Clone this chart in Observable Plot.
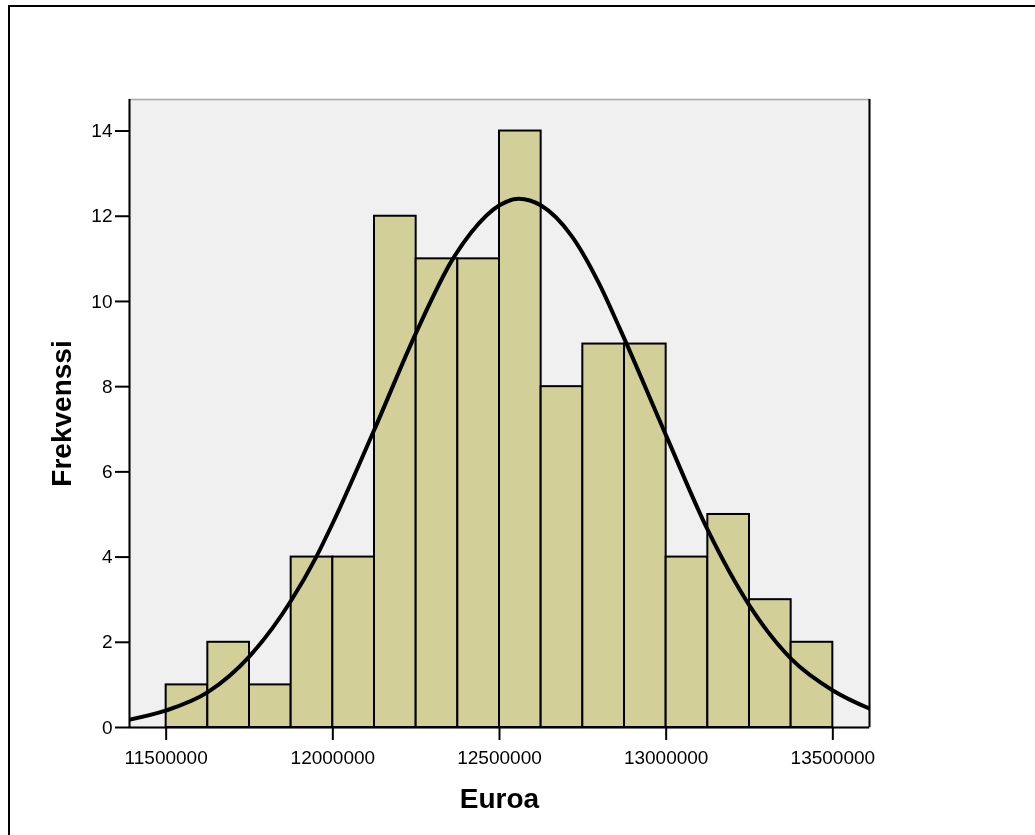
<!DOCTYPE html>
<html>
<head>
<meta charset="utf-8">
<script src="https://cdn.jsdelivr.net/npm/d3@7"></script>
<script src="https://cdn.jsdelivr.net/npm/@observablehq/plot@0.6"></script>
<style>
  html, body { margin: 0; padding: 0; background: #fff; overflow: hidden; }
  #hline { position: fixed; left: 8px; top: 5px; width: 1027px; height: 2px; background: #000; }
  #vline { position: fixed; left: 8px; top: 5px; width: 2px; height: 830px; background: #000; }
  #chart { position: fixed; left: 0; top: 0; }
</style>
</head>
<body>
<div id="hline"></div>
<div id="vline"></div>
<div id="chart"></div>
<script>
// Histogram bins (Euroa) and frequencies
const binEdges = [11500000, 11625000, 11750000, 11875000, 12000000, 12125000, 12250000, 12375000, 12500000,
                  12625000, 12750000, 12875000, 13000000, 13125000, 13250000, 13375000, 13500000];
const counts = [1, 2, 1, 4, 4, 12, 11, 11, 14, 8, 9, 9, 4, 5, 3, 2];

// Normal curve
const curveX = [11388000, 11500000, 11625000, 11750000, 11875000, 11950000, 12000000, 12125000, 12250000,
                12360000, 12415000, 12500000, 12558000, 12625000, 12715000, 12800000, 12860000, 13000000,
                13125000, 13250000, 13375000, 13500000, 13611000];
const curveY = [0.18, 0.40, 0.83, 1.67, 2.98, 4.0, 4.8, 7.0, 9.27,
                11.0, 11.62, 12.26, 12.41, 12.25, 11.55, 10.4, 9.38, 6.85,
                4.63, 2.86, 1.61, 0.87, 0.44];

const xDomain = [11390000, 13610000];
const yDomain = [0, 14.74];
const xTicks = [11500000, 12000000, 12500000, 13000000, 13500000];
const yTicks = [0, 2, 4, 6, 8, 10, 12, 14];

const bars = counts.map((c, i) => ({x1: binEdges[i], x2: binEdges[i + 1], count: c}));
const curve = curveX.map((x, i) => ({x, y: curveY[i]}));

const chart = Plot.plot({
  width: 1035,
  height: 835,
  marginLeft: 129,
  marginRight: 166,
  marginTop: 99,
  marginBottom: 108,
  style: {fontFamily: "Arial, 'Liberation Sans', sans-serif", fontSize: "19px", background: "transparent", color: "#000"},
  x: {domain: xDomain},
  y: {domain: yDomain},
  marks: [
    Plot.frame({fill: "#f0f0f0", stroke: "#a8a8a8", strokeWidth: 1.5}),
    Plot.ruleX(xDomain, {stroke: "#000", strokeWidth: 2}),
    Plot.rectY(bars, {x1: "x1", x2: "x2", y: "count", fill: "#d3cf99", stroke: "#000", strokeWidth: 2, insetLeft: 0, insetRight: 0}),
    Plot.line(curve, {x: "x", y: "y", curve: "monotone-x", stroke: "#000", strokeWidth: 4, clip: true}),
    Plot.ruleY([0], {stroke: "#000", strokeWidth: 2}),
    Plot.axisX({ticks: xTicks, tickFormat: d => String(d), tickSize: 13, tickPadding: 10, strokeWidth: 2,
                label: "Euroa", labelAnchor: "center", labelArrow: false, labelOffset: 80}),
    Plot.axisY({ticks: yTicks, tickSize: 14, tickPadding: 3, strokeWidth: 2,
                label: "Frekvenssi", labelAnchor: "center", labelArrow: false, labelOffset: 78})
  ]
});

document.getElementById("chart").appendChild(chart);

// style axis titles
chart.querySelectorAll('g[aria-label="x-axis label"] text, g[aria-label="y-axis label"] text').forEach(t => {
  t.setAttribute("font-weight", "bold");
  t.setAttribute("font-size", "28px");
});
</script>
</body>
</html>
